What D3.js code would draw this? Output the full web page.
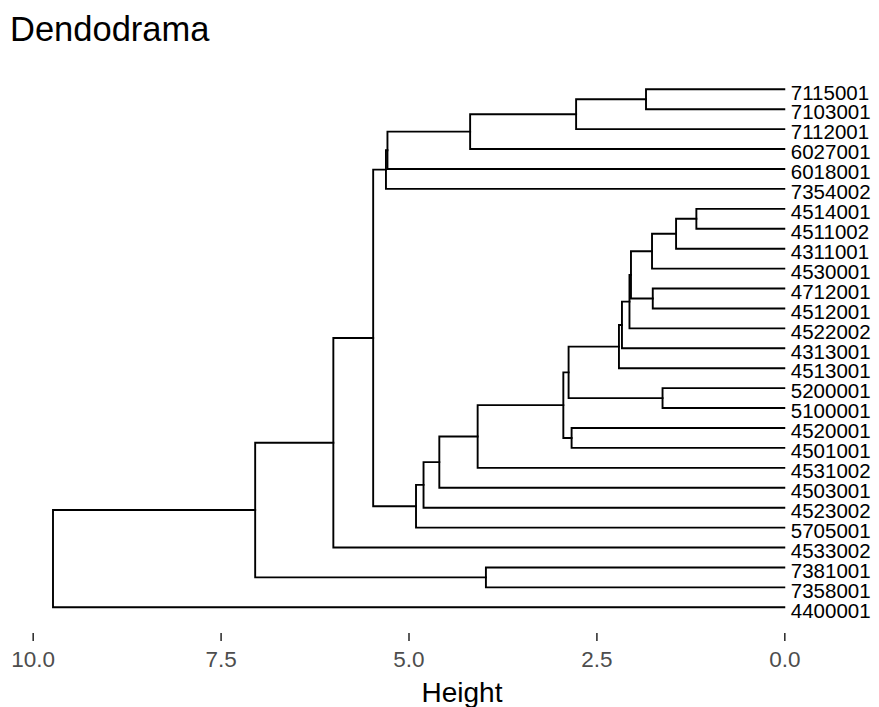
<!DOCTYPE html>
<html>
<head>
<meta charset="utf-8">
<script src="https://cdn.jsdelivr.net/npm/d3@7"></script>
<style>
  html, body { margin: 0; padding: 0; background: #ffffff; }
  svg { display: block; font-family: "Liberation Sans", Arial, Helvetica, sans-serif; }
</style>
</head>
<body>
<svg id="chart" width="879" height="707"></svg>
<script>
// Leaf labels, in drawing order (top to bottom)
const leafLabels = [
  "7115001", "7103001", "7112001", "6027001", "6018001", "7354002",
  "4514001", "4511002", "4311001", "4530001", "4712001", "4512001",
  "4522002", "4313001", "4513001", "5200001", "5100001", "4520001",
  "4501001", "4531002", "4503001", "4523002", "5705001", "4533002",
  "7381001", "7358001", "4400001"
];

// Agglomeration steps, hclust style: a negative number is a leaf
// (-1 is the first leaf), a positive number is an earlier merge step.
const mergeLeft  = [ -7,  1, -16, -11,  2,  -1,  5,  7,  8,  9,  6, -18, 10, 13, -25, 14, 11, 16, 18, 19, 17, 21, 22, 23, 24, 25];
const mergeRight = [ -8, -9, -17, -12, -10, -2,  4, -13, -14, -15, -3, -19, 3, 12, -26, -20, -4, -21, -22, -23, -5, -6, 20, -24, 15, -27];
const mergeHeight = [1.17, 1.44, 1.62, 1.75, 1.76, 1.84, 2.04, 2.06, 2.16, 2.20, 2.77, 2.83, 2.87, 2.94,
                     3.97, 4.08, 4.18, 4.59, 4.80, 4.90, 5.28, 5.30, 5.47, 6.00, 7.04, 9.73];

// Axis
const heightTicks = [10, 7.5, 5, 2.5, 0];
const chartTitle = "Dendodrama";
const axisTitle = "Height";

const svg = d3.select("#chart");

const x = d3.scaleLinear().domain([10, 0]).range([32.7, 784.3]);
const y = d3.scalePoint().domain(leafLabels).range([89.3, 607.3]);

// Position (height, vertical centre) of a leaf or a merge node
const nodePos = [];
function pos(ref) {
  if (ref < 0) return { h: 0, y: y(leafLabels[-ref - 1]) };
  return nodePos[ref - 1];
}
mergeHeight.forEach((h, i) => {
  const a = pos(mergeLeft[i]), b = pos(mergeRight[i]);
  nodePos.push({ h: h, y: (a.y + b.y) / 2, a: a, b: b });
});

// Elbow connectors
const g = svg.append("g")
  .attr("fill", "none")
  .attr("stroke", "#000000")
  .attr("stroke-width", 1.9)
  .attr("stroke-linecap", "square");

g.selectAll("path.link")
  .data(nodePos)
  .join("path")
  .attr("class", "link")
  .attr("d", d => {
    const path = d3.path();
    path.moveTo(x(d.a.h), d.a.y);
    path.lineTo(x(d.h), d.a.y);
    path.lineTo(x(d.h), d.b.y);
    path.lineTo(x(d.b.h), d.b.y);
    return path.toString();
  });

// Leaf labels
svg.append("g")
  .selectAll("text")
  .data(leafLabels)
  .join("text")
  .attr("x", x(0) + 6.5)
  .attr("y", d => y(d))
  .attr("dy", "0.5em")
  .attr("font-size", 20.5)
  .attr("fill", "#000000")
  .text(d => d);

// Bottom axis
const axis = svg.append("g")
  .attr("transform", "translate(0,633)")
  .call(d3.axisBottom(x)
    .tickValues(heightTicks)
    .tickFormat(d3.format(".1f"))
    .tickSize(8)
    .tickPadding(10.5));
axis.select(".domain").remove();
axis.selectAll(".tick line").attr("stroke", "#333333").attr("stroke-width", 1.6);
axis.selectAll(".tick text")
  .attr("fill", "#4d4d4d")
  .attr("font-size", 22.5)
  .attr("font-family", "Liberation Sans, Arial, sans-serif");

// Titles
svg.append("text")
  .attr("x", 10)
  .attr("y", 41)
  .attr("font-size", 34.5)
  .attr("fill", "#000000")
  .text(chartTitle);

svg.append("text")
  .attr("x", 462)
  .attr("y", 701.5)
  .attr("text-anchor", "middle")
  .attr("font-size", 28)
  .attr("fill", "#000000")
  .text(axisTitle);
</script>
</body>
</html>
